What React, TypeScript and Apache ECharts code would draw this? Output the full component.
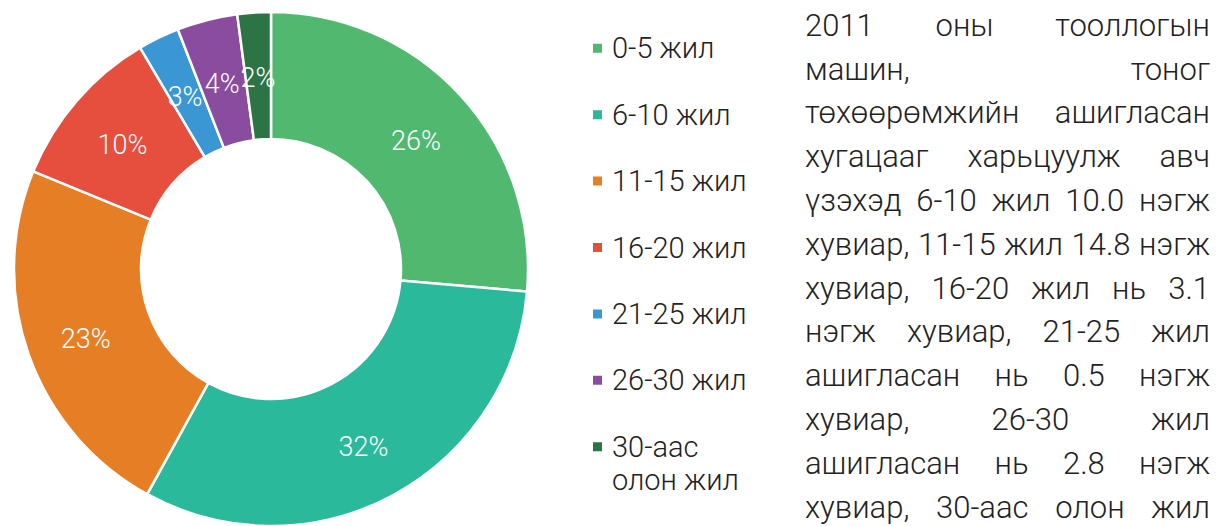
import React, { useEffect, useRef } from "react";
import * as echarts from "echarts";

const categories = [
  "0-5 жил",
  "6-10 жил",
  "11-15 жил",
  "16-20 жил",
  "21-25 жил",
  "26-30 жил",
  "30-аас олон жил",
];
const shares = [26.4, 31.6, 23.2, 10.3, 2.6, 3.8, 2.1];
const colors = ["#50b96f", "#2ab99a", "#e67e26", "#e64e3d", "#3b97d4", "#8a4c9e", "#2c7445"];

const paragraphLines = [
  "2011 оны тооллогын",
  "машин, тоног",
  "төхөөрөмжийн ашигласан",
  "хугацааг харьцуулж авч",
  "үзэхэд 6-10 жил 10.0 нэгж",
  "хувиар, 11-15 жил 14.8 нэгж",
  "хувиар, 16-20 жил нь 3.1",
  "нэгж хувиар, 21-25 жил",
  "ашигласан нь 0.5 нэгж",
  "хувиар, 26-30 жил",
  "ашигласан нь 2.8 нэгж",
  "хувиар, 30-аас олон жил",
];

const FONT = "Roboto";
const PARA_SIZE = 31;
const PARA_LEFT = 805;
const PARA_RIGHT = 1210;
const PARA_BASE0 = 36;
const PARA_LINE = 43.8;

function buildParagraph() {
  const canvas = document.createElement("canvas");
  const ctx = canvas.getContext("2d")!;
  ctx.font = `300 ${PARA_SIZE}px ${FONT}`;
  const els: any[] = [];
  paragraphLines.forEach((line, i) => {
    const words = line.split(" ");
    const widths = words.map((w) => ctx.measureText(w).width);
    const total = widths.reduce((a, b) => a + b, 0);
    const gap = words.length > 1 ? (PARA_RIGHT - PARA_LEFT - total) / (words.length - 1) : 0;
    let x = PARA_LEFT;
    const y = PARA_BASE0 + i * PARA_LINE - 0.342 * PARA_SIZE;
    words.forEach((w, j) => {
      els.push({
        type: "text",
        x,
        y,
        silent: true,
        style: {
          text: w,
          fontFamily: FONT,
          fontWeight: 300,
          fontSize: PARA_SIZE,
          fill: "#222222",
          align: "left",
          verticalAlign: "middle",
        },
      });
      x += widths[j] + gap;
    });
  });
  return els;
}

export default function App() {
  const ref = useRef<HTMLDivElement>(null);
  useEffect(() => {
    document.body.style.margin = "0";
    const chart = echarts.init(ref.current!, null, { renderer: "svg" });
    const legendText = {
      fontFamily: FONT,
      fontWeight: 300,
      fontSize: 29,
      color: "#222222",
    };
    chart.setOption({
      animation: false,
      color: colors,
      legend: [
        {
          data: categories.slice(0, 6),
          orient: "vertical",
          left: 591,
          top: 33.3,
          padding: 0,
          itemWidth: 11,
          itemHeight: 11,
          itemGap: 36.4,
          icon: "rect",
          selectedMode: false,
          textStyle: { ...legendText, lineHeight: 30, padding: [0, 0, 0, 4] },
        },
        {
          data: categories.slice(6),
          orient: "vertical",
          left: 591,
          top: 397.2,
          padding: 0,
          itemWidth: 11,
          itemHeight: 11,
          icon: "rect",
          selectedMode: false,
          formatter: () => " \n30-аас\nолон жил",
          textStyle: { ...legendText, lineHeight: 33, padding: [0, 0, 0, 4] },
        },
      ],
      series: [
        {
          type: "pie",
          center: [271, 269],
          radius: [130, 257],
          startAngle: 90,
          clockwise: true,
          itemStyle: { borderColor: "#ffffff", borderWidth: 2.5 },
          label: {
            show: true,
            position: "inside",
            formatter: (p: any) => Math.round(p.percent) + "%",
            color: "#ffffff",
            fontFamily: FONT,
            fontWeight: 300,
            fontSize: 27,
            offset: [0, 5],
          },
          labelLine: { show: false },
          emphasis: { disabled: true },
          data: categories.map((name, i) => ({ name, value: shares[i] })),
        },
      ],
      graphic: buildParagraph(),
    });
    return () => chart.dispose();
  }, []);
  return <div ref={ref} style={{ width: 1216, height: 526 }} />;
}
